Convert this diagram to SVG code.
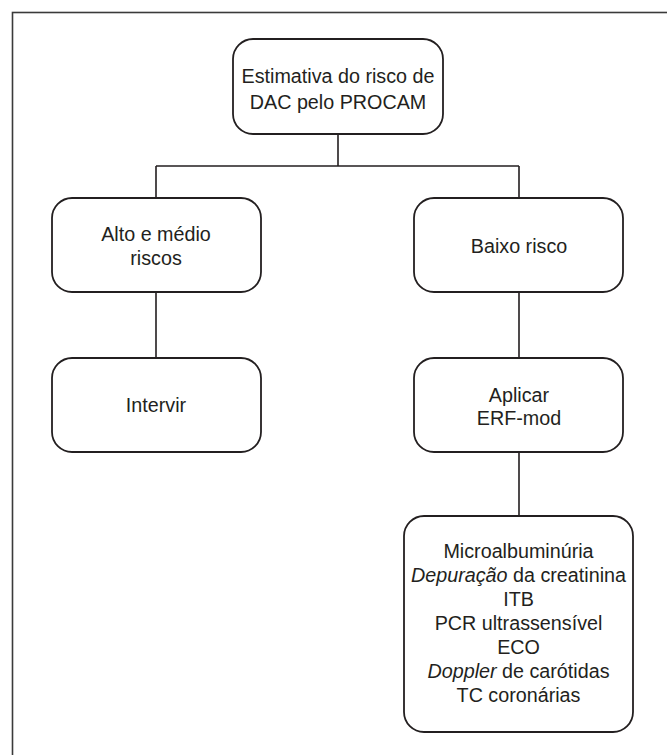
<svg xmlns="http://www.w3.org/2000/svg" width="667" height="755" viewBox="0 0 667 755">
<style>
.box{fill:#fff;stroke:#231f20;stroke-width:1.8}
.ln{fill:none;stroke:#231f20;stroke-width:1.6}
text{font-family:"Liberation Sans",Arial,sans-serif;font-size:21px;fill:#231f20;text-anchor:middle}
.it{font-style:italic}
</style>
<rect x="12.5" y="12.5" width="670" height="760" fill="none" stroke="#3a3a3a" stroke-width="1.6"/>
<g id="connectors">
<path class="ln" d="M338 134V166M156 166H519M156 166V198M519 166V198M156 292V358M519 292V358M519 452V516"/>
</g>
<g id="n-procam">
<rect class="box" x="233" y="39" width="210" height="95" rx="20"/>
<g transform="translate(338 0) scale(0.94 1)">
<text x="0" y="83">Estimativa do risco de</text>
<text x="0" y="109">DAC pelo PROCAM</text>
</g>
</g>
<g id="n-alto">
<rect class="box" x="52" y="198" width="209" height="94" rx="20"/>
<g transform="translate(156 0) scale(0.94 1)">
<text x="0" y="241">Alto e médio</text>
<text x="0" y="265">riscos</text>
</g>
</g>
<g id="n-baixo">
<rect class="box" x="414" y="198" width="209" height="94" rx="20"/>
<g transform="translate(519 0) scale(0.94 1)">
<text x="0" y="253">Baixo risco</text>
</g>
</g>
<g id="n-intervir">
<rect class="box" x="52" y="358" width="209" height="94" rx="20"/>
<g transform="translate(156 0) scale(0.94 1)">
<text x="0" y="412">Intervir</text>
</g>
</g>
<g id="n-aplicar">
<rect class="box" x="414" y="358" width="209" height="94" rx="20"/>
<g transform="translate(519 0) scale(0.94 1)">
<text x="0" y="402">Aplicar</text>
<text x="0" y="425">ERF-mod</text>
</g>
</g>
<g id="n-exames">
<rect class="box" x="404" y="516" width="229" height="216" rx="20"/>
<g transform="translate(518.5 0) scale(0.94 1)">
<text x="0" y="558">Microalbuminúria</text>
<text x="0" y="582"><tspan class="it">Depuração</tspan> da creatinina</text>
<text x="0" y="606">ITB</text>
<text x="0" y="630">PCR ultrassensível</text>
<text x="0" y="654">ECO</text>
<text x="0" y="678"><tspan class="it">Doppler</tspan> de carótidas</text>
<text x="0" y="702">TC coronárias</text>
</g>
</g>
</svg>
